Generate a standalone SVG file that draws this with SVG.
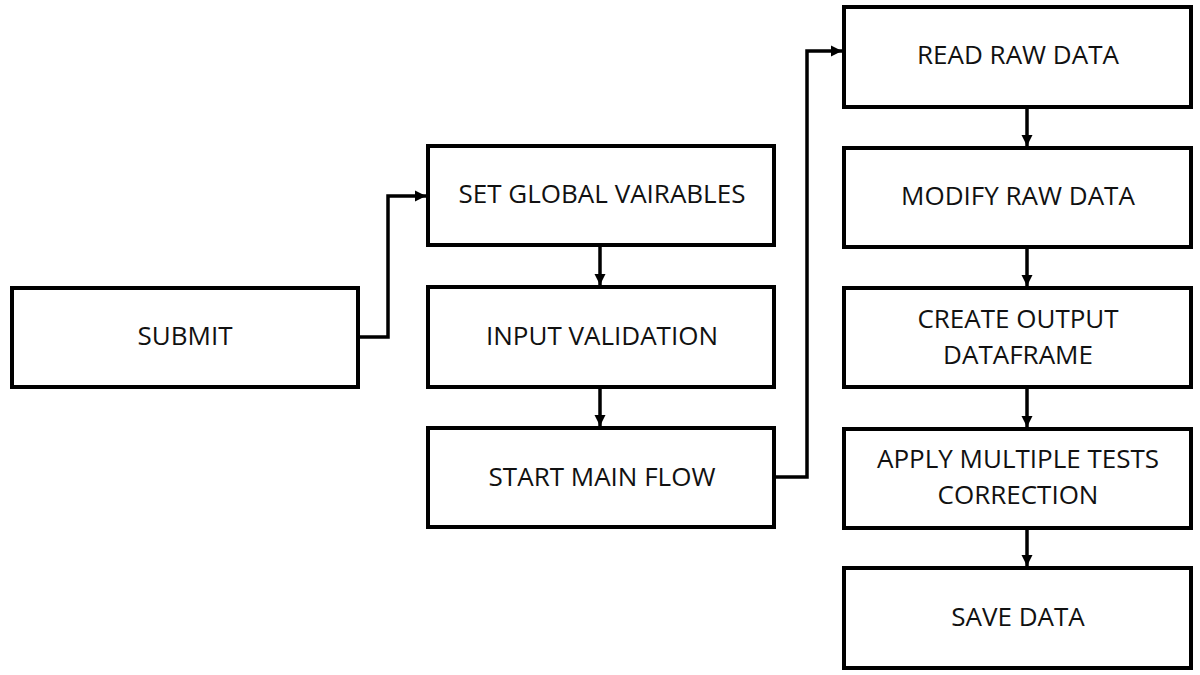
<svg xmlns="http://www.w3.org/2000/svg" width="1200" height="675" viewBox="0 0 1200 675">
<style>
.box{fill:#fff;stroke:#000;stroke-width:4}
.lbl{font-family:"Open Sans","Noto Sans",sans-serif;font-size:26px;fill:#111;text-anchor:middle}
.con{fill:none;stroke:#000;stroke-width:3.5}
</style>
<defs>
<marker id="ah" viewBox="0 0 10 10" refX="10" refY="5" markerWidth="3.2" markerHeight="3.2" markerUnits="strokeWidth" orient="auto">
<path d="M0,0 L10,5 L0,10 Z" fill="#000"/>
</marker>
</defs>
<rect width="1200" height="675" fill="#fff"/>
<g id="connectors">
<path class="con" d="M358,337 H388 V196 H426" marker-end="url(#ah)"/>
<path class="con" d="M600,245 V285" marker-end="url(#ah)"/>
<path class="con" d="M600,387 V426" marker-end="url(#ah)"/>
<path class="con" d="M774,477 H807 V51 H842" marker-end="url(#ah)"/>
<path class="con" d="M1027,107 V146" marker-end="url(#ah)"/>
<path class="con" d="M1027,247 V286" marker-end="url(#ah)"/>
<path class="con" d="M1027,387 V427" marker-end="url(#ah)"/>
<path class="con" d="M1027,528 V566" marker-end="url(#ah)"/>
</g>
<g id="submit"><rect class="box" x="12" y="288" width="346" height="99"/><text class="lbl" x="185" y="345">SUBMIT</text></g>
<g id="set-global"><rect class="box" x="428" y="146" width="346" height="99"/><text class="lbl" x="602" y="203">SET GLOBAL VAIRABLES</text></g>
<g id="input-validation"><rect class="box" x="428" y="287" width="346" height="100"/><text class="lbl" x="602" y="345">INPUT VALIDATION</text></g>
<g id="start-main-flow"><rect class="box" x="428" y="428" width="346" height="99"/><text class="lbl" x="602" y="486">START MAIN FLOW</text></g>
<g id="read-raw"><rect class="box" x="844" y="7" width="347" height="100"/><text class="lbl" x="1018" y="64">READ RAW DATA</text></g>
<g id="modify-raw"><rect class="box" x="844" y="148" width="347" height="99"/><text class="lbl" x="1018" y="205">MODIFY RAW DATA</text></g>
<g id="create-output"><rect class="box" x="844" y="288" width="347" height="99"/><text class="lbl" x="1018"><tspan x="1018" y="328">CREATE OUTPUT</tspan><tspan x="1018" y="364">DATAFRAME</tspan></text></g>
<g id="apply-correction"><rect class="box" x="844" y="429" width="347" height="99"/><text class="lbl" x="1018"><tspan x="1018" y="468">APPLY MULTIPLE TESTS</tspan><tspan x="1018" y="504">CORRECTION</tspan></text></g>
<g id="save-data"><rect class="box" x="844" y="568" width="347" height="100"/><text class="lbl" x="1018" y="626">SAVE DATA</text></g>
</svg>
